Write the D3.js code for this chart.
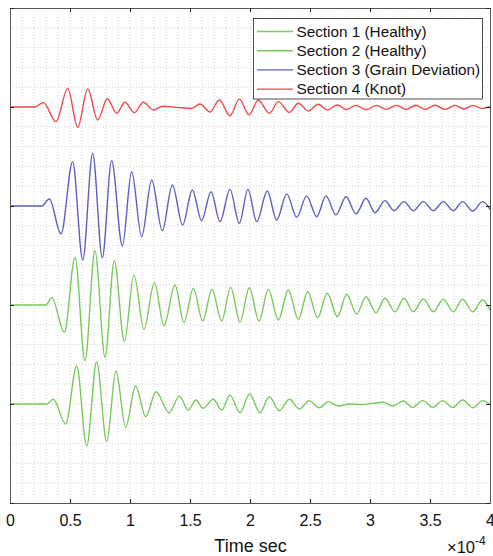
<!DOCTYPE html>
<html>
<head>
<meta charset="utf-8">
<script src="https://cdn.jsdelivr.net/npm/d3@7"></script>
<style>
  html, body { margin: 0; padding: 0; background: #fff; }
  svg { display: block; font-family: "Liberation Sans", Arial, Helvetica, sans-serif; }
</style>
</head>
<body>
<svg id="chart" width="493" height="556"></svg>
<script>
// ---- DATA (time in units of 1e-4 s, amplitude relative to each trace's offset) ----
const seriesNames = ["Section 1 (Healthy)", "Section 2 (Healthy)", "Section 3 (Grain Deviation)", "Section 4 (Knot)"];
const seriesColors = ["#79c95c", "#79c95c", "#5f5fbf", "#f04a4a"];
const seriesOffsets = [5, 10, 15, 20];

const sec1T = [0,0.306,0.361,0.464,0.556,0.639,0.722,0.806,0.883,0.964,1.047,1.131,1.217,1.325,1.411,1.486,1.55,1.608,1.694,1.764,1.833,1.917,1.997,2.083,2.161,2.244,2.328,2.411,2.494,2.578,2.653,2.736,2.833,2.933,3.017,3.111,3.189,3.278,3.356,3.439,3.522,3.606,3.689,3.772,3.856,3.939,4];
const sec1A = [0,0,0.24,-1.01,1.92,-2.12,2.12,-1.90,1.68,-1.18,0.91,-0.64,0.62,-0.44,0.40,-0.30,0.20,-0.22,0.24,-0.30,0.45,-0.44,0.51,-0.44,0.37,-0.34,0.24,-0.25,0.17,-0.19,0.12,-0.10,0,-0.03,0.03,0.09,-0.10,0.15,-0.17,0.17,-0.17,0.17,-0.17,0.20,-0.19,0.17,-0.02];

const sec2T = [0,0.298,0.348,0.453,0.542,0.625,0.708,0.792,0.869,0.953,1.033,1.117,1.203,1.283,1.375,1.45,1.528,1.606,1.683,1.764,1.839,1.917,1.994,2.075,2.153,2.236,2.319,2.403,2.481,2.564,2.644,2.728,2.806,2.889,2.967,3.05,3.125,3.208,3.283,3.361,3.444,3.528,3.611,3.694,3.772,3.856,3.939,4];
const sec2A = [0,0,0.37,-1.38,2.41,-2.81,2.74,-2.64,2.24,-1.85,1.52,-1.23,1.13,-1.05,1.01,-0.89,0.84,-0.81,0.79,-0.81,0.89,-0.87,0.87,-0.81,0.79,-0.76,0.76,-0.72,0.67,-0.64,0.59,-0.59,0.54,-0.45,0.42,-0.39,0.34,-0.34,0.34,-0.34,0.30,-0.34,0.29,-0.34,0.29,-0.34,0.25,-0.25];

const sec3T = [0,0.264,0.328,0.425,0.522,0.606,0.689,0.769,0.847,0.936,1.014,1.097,1.181,1.269,1.353,1.439,1.519,1.597,1.675,1.75,1.833,1.911,1.983,2.056,2.144,2.222,2.306,2.389,2.472,2.556,2.633,2.717,2.8,2.883,2.967,3.042,3.125,3.2,3.283,3.361,3.444,3.528,3.611,3.694,3.772,3.856,3.939,4];
const sec3A = [0,0,0.35,-1.41,2.24,-2.73,2.66,-2.61,2.29,-2.02,1.73,-1.55,1.31,-1.25,1.06,-0.96,0.81,-0.74,0.72,-0.79,0.84,-0.87,0.84,-0.79,0.76,-0.71,0.61,-0.57,0.51,-0.54,0.51,-0.45,0.47,-0.40,0.39,-0.34,0.27,-0.24,0.22,-0.24,0.22,-0.24,0.22,-0.24,0.22,-0.25,0.22,-0.17];

const sec4T = [0,0.208,0.278,0.383,0.481,0.564,0.648,0.731,0.811,0.889,0.958,1.036,1.111,1.194,1.275,1.392,1.514,1.583,1.667,1.744,1.833,1.911,1.992,2.069,2.161,2.236,2.328,2.403,2.486,2.569,2.644,2.728,2.8,2.883,2.967,3.056,3.133,3.222,3.3,3.383,3.458,3.542,3.625,3.708,3.783,3.861,3.933,4];
const sec4A = [0,0,0.22,-0.74,0.94,-1.03,0.91,-0.66,0.42,-0.32,0.24,-0.29,0.24,-0.15,0.04,-0.02,-0.07,0.15,-0.25,0.35,-0.44,0.40,-0.40,0.35,-0.32,0.27,-0.27,0.19,-0.20,0.14,-0.15,0.10,-0.13,0.08,-0.13,0.08,-0.12,0.08,-0.12,0.09,-0.12,0.09,-0.12,0.08,-0.10,0.08,-0.08,0.03];

const xTickValues = [0, 0.5, 1, 1.5, 2, 2.5, 3, 3.5, 4];
const xTickLabels = ["0", "0.5", "1", "1.5", "2", "2.5", "3", "3.5", "4"];
const yTickValues = [0, 5, 10, 15, 20, 25];
const xLabel = "Time sec";
const xExponent = "-4";

// ---- CHART ----
const svg = d3.select("#chart");
const L = 10, R = 490, T = 8, B = 503;
const x = d3.scaleLinear().domain([0, 4]).range([L, R]);
const y = d3.scaleLinear().domain([0, 25]).range([B, T]);

// grid
const grid = svg.append("g").attr("stroke", "#c8c8c8").attr("stroke-width", 0.8).attr("stroke-dasharray", "1,2");
grid.selectAll("line.v").data(d3.range(1, 40).map(i => i / 10)).join("line")
  .attr("x1", d => x(d)).attr("x2", d => x(d)).attr("y1", T).attr("y2", B);
grid.selectAll("line.h").data(d3.range(1, 25)).join("line")
  .attr("x1", L).attr("x2", R).attr("y1", d => y(d)).attr("y2", d => y(d));

// traces
const allT = [sec1T, sec2T, sec3T, sec4T];
const allA = [sec1A, sec2A, sec3A, sec4A];
const line = d3.line().x(d => x(d[0])).y(d => y(d[1])).curve(d3.curveMonotoneX);
svg.append("defs").append("clipPath").attr("id", "clip").append("rect")
  .attr("x", L).attr("y", T).attr("width", R - L).attr("height", B - T);
const traces = svg.append("g").attr("clip-path", "url(#clip)");
[3, 2, 1, 0].forEach(i => {
  const pts = allT[i].map((t, k) => [t, seriesOffsets[i] + allA[i][k]]);
  traces.append("path").datum(pts)
    .attr("fill", "none").attr("stroke", seriesColors[i]).attr("stroke-width", 1.4)
    .attr("d", line);
});

// axes
const styleAxis = g => { g.select(".domain").attr("stroke", "#555"); g.selectAll(".tick line").attr("stroke", "#222"); };
svg.append("g").attr("transform", `translate(0,${B})`)
  .call(d3.axisBottom(x).tickValues(xTickValues).tickFormat((d, i) => xTickLabels[i]).tickSizeInner(-4).tickSizeOuter(0).tickPadding(12))
  .call(styleAxis)
  .call(g => g.selectAll("text").attr("font-size", 16).attr("fill", "#111").attr("font-family", "Liberation Sans, Arial, sans-serif"));
svg.append("g").attr("transform", `translate(0,${T})`)
  .call(d3.axisTop(x).tickValues(xTickValues).tickFormat("").tickSizeInner(-4).tickSizeOuter(0))
  .call(styleAxis);
svg.append("g").attr("transform", `translate(${L},0)`)
  .call(d3.axisLeft(y).tickValues(yTickValues).tickFormat("").tickSizeInner(-4).tickSizeOuter(0))
  .call(styleAxis);
svg.append("g").attr("transform", `translate(${R},0)`)
  .call(d3.axisRight(y).tickValues(yTickValues).tickFormat("").tickSizeInner(-4).tickSizeOuter(0))
  .call(styleAxis);

// x label
svg.append("text").attr("x", 250.5).attr("y", 552).attr("text-anchor", "middle")
  .attr("font-size", 18).attr("fill", "#111").text(xLabel);
const ex = svg.append("text").attr("x", 447).attr("y", 553).attr("font-size", 16.5).attr("fill", "#111");
ex.append("tspan").text("\u00d710");
ex.append("tspan").attr("dy", -8).attr("font-size", 12).text(xExponent);

// legend
const lg = svg.append("g");
lg.append("rect").attr("x", 253.5).attr("y", 18.5).attr("width", 229).attr("height", 80.5)
  .attr("fill", "#fff").attr("stroke", "#222").attr("stroke-width", 0.8);
seriesNames.forEach((name, i) => {
  const cy = 31.5 + i * 19.2;
  lg.append("line").attr("x1", 257).attr("x2", 293).attr("y1", cy).attr("y2", cy)
    .attr("stroke", seriesColors[i]).attr("stroke-width", 1.4);
  lg.append("text").attr("x", 296.5).attr("y", cy).attr("dy", "0.35em")
    .attr("font-size", 15.3).attr("fill", "#111").text(name);
});
</script>
</body>
</html>
